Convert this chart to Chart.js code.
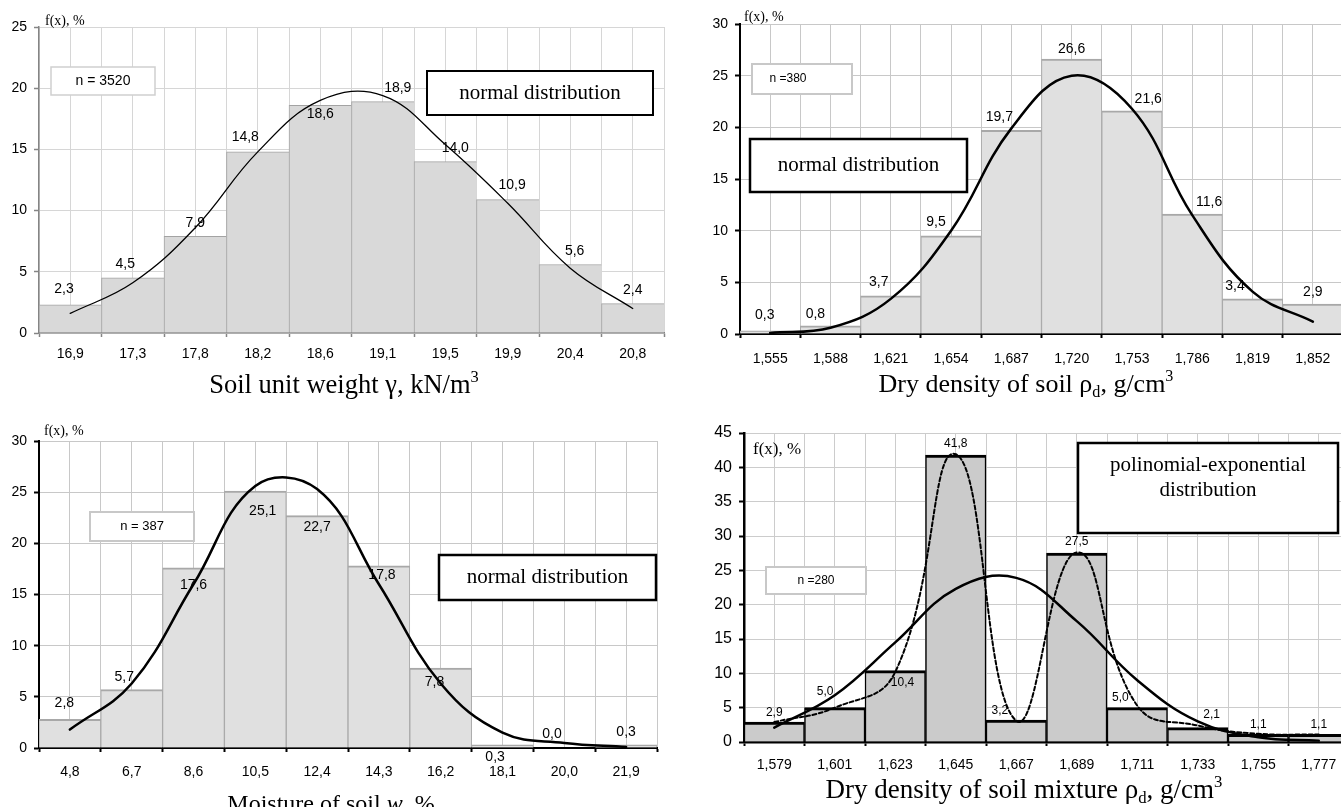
<!DOCTYPE html>
<html>
<head>
<meta charset="utf-8">
<script src="https://cdn.jsdelivr.net/npm/chart.js@4.4.1/dist/chart.umd.min.js"></script>
<style>
html,body{margin:0;padding:0;background:#fff;overflow:hidden;width:1341px;height:807px;position:relative;}
canvas{position:absolute;display:block;}
</style>
</head>
<body>
<canvas id="c1" width="670" height="400" style="left:0;top:0"></canvas>
<canvas id="c2" width="680" height="400" style="left:670px;top:0"></canvas>
<canvas id="c3" width="670" height="407" style="left:0;top:400px"></canvas>
<canvas id="c4" width="690" height="407" style="left:670px;top:400px"></canvas>
<script>
// ---------- DATA ----------
const unitWeightLabels = ['16,9','17,3','17,8','18,2','18,6','19,1','19,5','19,9','20,4','20,8'];
const unitWeightFreq   = [2.3, 4.5, 7.9, 14.8, 18.6, 18.9, 14.0, 10.9, 5.6, 2.4];
const unitWeightNormal = [1.6, 4.1, 8.6, 14.8, 19.0, 19.4, 15.4, 10.6, 5.3, 2.0];

const dryDensityLabels = ['1,555','1,588','1,621','1,654','1,687','1,720','1,753','1,786','1,819','1,852'];
const dryDensityFreq   = [0.3, 0.8, 3.7, 9.5, 19.7, 26.6, 21.6, 11.6, 3.4, 2.9];
const dryDensityNormal = [0.1, 0.6, 3.4, 10.0, 19.9, 25.0, 21.8, 11.5, 4.1, 1.2];

const moistureLabels = ['4,8','6,7','8,6','10,5','12,4','14,3','16,2','18,1','20,0','21,9'];
const moistureFreq   = [2.8, 5.7, 17.6, 25.1, 22.7, 17.8, 7.8, 0.3, 0.0, 0.3];
const moistureNormal = [1.8, 6.3, 16.0, 25.6, 25.3, 16.0, 6.3, 1.5, 0.5, 0.1];

const mixtureLabels  = ['1,579','1,601','1,623','1,645','1,667','1,689','1,711','1,733','1,755','1,777'];
const mixtureFreq    = [2.9, 5.0, 10.4, 41.8, 3.2, 27.5, 5.0, 2.1, 1.1, 1.1];
const mixtureNormal  = [2.1, 6.8, 14.5, 22.3, 23.9, 17.6, 9.0, 3.0, 0.7, 0.2];
const mixturePolyExp = [2.9, 5.0, 10.2, 41.9, 3.1, 27.6, 5.3, 2.4, 1.2, 1.1];

// ---------- STYLE ----------
const SANS = "'Liberation Sans', Arial, sans-serif";
const SERIF = "'Liberation Serif', 'Times New Roman', serif";

function fmt(v){ return v.toFixed(1).replace('.', ','); }

function drawRich(ctx, segs, cx, baseline, size) {
  const parts = segs.map(s => {
    const sz = (s.sup || s.sub) ? size * 0.62 : size;
    const font = (s.italic ? 'italic ' : '') + sz + 'px ' + SERIF;
    ctx.font = font;
    return { t: s.t, font, w: ctx.measureText(s.t).width,
             dy: s.sup ? -size * 0.42 : (s.sub ? size * 0.2 : 0) };
  });
  const total = parts.reduce((a, p) => a + p.w, 0);
  let x = cx - total / 2;
  ctx.textAlign = 'left';
  ctx.textBaseline = 'alphabetic';
  parts.forEach(p => { ctx.font = p.font; ctx.fillText(p.t, x, baseline + p.dy); x += p.w; });
}

function decorPlugin(p) {
  return {
    id: 'decor',
    afterDatasetsDraw(chart) {
      const ctx = chart.ctx;
      const last = chart.data.datasets.length - 1;
      const meta = chart.getDatasetMeta(last);
      ctx.save();
      ctx.fillStyle = '#000';
      ctx.font = p.labelFont;
      ctx.textAlign = 'center';
      ctx.textBaseline = 'middle';
      meta.data.forEach((el, i) => {
        const v = chart.data.datasets[last].data[i];
        ctx.fillText(fmt(v), el.x + p.labelDx[i] * el.width, el.y - p.labelDy[i]);
      });
      ctx.restore();
    },
    afterDraw(chart) {
      const ctx = chart.ctx;
      const ox = p.offset[0], oy = p.offset[1];
      ctx.save();
      p.boxes.forEach(b => {
        ctx.fillStyle = '#fff';
        ctx.fillRect(b.x - ox, b.y - oy, b.w, b.h);
        ctx.strokeStyle = b.stroke;
        ctx.lineWidth = b.lw;
        ctx.strokeRect(b.x - ox, b.y - oy, b.w, b.h);
        ctx.fillStyle = '#000';
        ctx.font = b.font;
        ctx.textAlign = 'center';
        ctx.textBaseline = 'middle';
        const n = b.lines.length;
        b.lines.forEach((t, k) => {
          const cy = b.y - oy + b.h / 2 + (k - (n - 1) / 2) * b.lineH + (b.textDy || 0);
          ctx.fillText(t, b.x - ox + b.w / 2 + (b.textDx || 0), cy);
        });
      });
      ctx.fillStyle = '#000';
      ctx.font = p.fx.font;
      ctx.textAlign = 'left';
      ctx.textBaseline = 'middle';
      ctx.fillText('f(x), %', p.fx.x - ox, p.fx.y - oy);
      drawRich(ctx, p.title.segs, p.title.cx - ox, p.title.base - oy, p.title.size);
      ctx.restore();
    }
  };
}

function buildPanel(id, p) {
  const datasets = p.lines.map(ln => ({
    type: 'line', data: ln.data, borderColor: '#000', borderWidth: ln.width,
    borderDash: ln.dash || [], pointRadius: 0, tension: ln.tension, fill: false,
    order: 0, xAxisID: 'x', yAxisID: 'y', borderCapStyle: 'round'
  }));
  datasets.push({
    type: 'bar', data: p.freq, backgroundColor: p.barFill, borderColor: p.barBorder,
    borderWidth: p.barBorderWidth, borderSkipped: 'start',
    barPercentage: 1, categoryPercentage: 1, order: 1, xAxisID: 'x', yAxisID: 'y'
  });
  return new Chart(document.getElementById(id), {
    data: { labels: p.labels, datasets },
    options: {
      responsive: false, animation: false, events: [],
      layout: { padding: { left: 0, top: p.top, right: p.right, bottom: 0 } },
      plugins: { legend: { display: false }, tooltip: { enabled: false } },
      scales: {
        x: {
          type: 'category', offset: true, position: 'bottom',
          grid: { offset: true, color: p.gridColor, lineWidth: 1, drawTicks: true, tickLength: 4,
                  tickColor: p.axisColor, tickWidth: p.tickWidth },
          border: { color: p.axisColor, width: p.axisWidth },
          ticks: { color: '#000', font: { family: SANS, size: 14 }, padding: p.xPad,
                   maxRotation: 0, autoSkip: false },
          afterFit: s => { s.height = p.xHeight; }
        },
        x2: {
          type: 'category', offset: true, position: 'bottom',
          grid: { offset: false, color: p.gridColor, lineWidth: 1, drawTicks: false },
          border: { display: false },
          ticks: { display: false },
          afterFit: s => { s.height = 0; }
        },
        y: {
          min: 0, max: p.yMax,
          grid: { color: p.gridColor, lineWidth: 1, drawTicks: true, tickLength: 5,
                  tickColor: p.axisColor, tickWidth: p.tickWidth },
          border: { color: p.axisColor, width: p.axisWidth },
          ticks: { stepSize: 5, color: '#000', font: { family: SANS, size: p.yFont }, padding: 7 },
          afterFit: s => { s.width = p.yWidth; }
        }
      }
    },
    plugins: [decorPlugin(p)]
  });
}

// ---------- PANEL 1 ----------
buildPanel('c1', {
  offset: [0, 0], labels: unitWeightLabels, freq: unitWeightFreq,
  lines: [{ data: unitWeightNormal, width: 1.3, tension: 0.4 }],
  barFill: '#d9d9d9', barBorder: '#a3a3a3', barBorderWidth: { top: 1, left: 1, right: 0 },
  gridColor: '#d6d6d6', axisColor: '#858585', axisWidth: 1.5, tickWidth: 1.5,
  top: 27, right: 6, yWidth: 39, xHeight: 67, yMax: 25, yFont: 14, xPad: 9,
  labelFont: '14px ' + SANS,
  labelDx: [-0.1, -0.12, 0, -0.2, 0, 0.24, 0.16, 0.07, 0.07, 0],
  labelDy: [16, 13.5, 13.5, 14.5, -8.5, 13.5, 13.5, 14.5, 13.5, 13.5],
  boxes: [
    { x: 51, y: 67, w: 104, h: 28, stroke: '#cfcfcf', lw: 1.5, font: '14px ' + SANS, lines: ['n = 3520'], lineH: 0 },
    { x: 427, y: 71, w: 226, h: 44, stroke: '#000', lw: 2, font: '21px ' + SERIF, lines: ['normal distribution'], lineH: 0 }
  ],
  fx: { x: 45, y: 21, font: '14px ' + SERIF },
  title: { cx: 344, base: 393, size: 26.5, segs: [{ t: 'Soil unit weight γ, kN/m' }, { t: '3', sup: true }] }
});

// ---------- PANEL 2 ----------
buildPanel('c2', {
  offset: [670, 0], labels: dryDensityLabels, freq: dryDensityFreq,
  lines: [{ data: dryDensityNormal, width: 2.5, tension: 0.4 }],
  barFill: '#e0e0e0', barBorder: '#a8a8a8', barBorderWidth: { top: 2, left: 1, right: 1 },
  gridColor: '#c8c8c8', axisColor: '#000', axisWidth: 2, tickWidth: 2,
  top: 24, right: 7, yWidth: 70, xHeight: 66, yMax: 30, yFont: 14, xPad: 12.5,
  labelFont: '14px ' + SANS,
  labelDx: [-0.09, -0.25, -0.2, -0.25, -0.2, 0, 0.27, 0.28, -0.29, 0],
  labelDy: [15.5, 12, 13.5, 13.5, 13.5, 9.5, 11.5, 11.5, 12.5, 11.5],
  boxes: [
    { x: 752, y: 64, w: 100, h: 30, stroke: '#c8c8c8', lw: 2, font: '12px ' + SANS, lines: ['n =380'], lineH: 0, textDx: -14 },
    { x: 750, y: 139, w: 217, h: 53, stroke: '#000', lw: 2.5, font: '21px ' + SERIF, lines: ['normal distribution'], lineH: 0 }
  ],
  fx: { x: 744, y: 17, font: '14px ' + SERIF },
  title: { cx: 1026, base: 392, size: 26,
           segs: [{ t: 'Dry density of soil ρ' }, { t: 'd', sub: true }, { t: ', g/cm' }, { t: '3', sup: true }] }
});

// ---------- PANEL 3 ----------
buildPanel('c3', {
  offset: [0, 400], labels: moistureLabels, freq: moistureFreq,
  lines: [{ data: moistureNormal, width: 2.5, tension: 0.4 }],
  barFill: '#e0e0e0', barBorder: '#a8a8a8', barBorderWidth: { top: 2, left: 1, right: 1 },
  gridColor: '#c8c8c8', axisColor: '#000', axisWidth: 2, tickWidth: 2,
  top: 41, right: 13, yWidth: 39, xHeight: 59, yMax: 30, yFont: 14, xPad: 12,
  labelFont: '14px ' + SANS,
  labelDx: [-0.09, -0.12, 0, 0.12, 0, 0.05, -0.1, -0.12, -0.2, 0],
  labelDy: [16.5, 13, -17.5, -19.5, -11.5, -9, -13.5, -12.5, 14, 13],
  boxes: [
    { x: 90, y: 512, w: 104, h: 29, stroke: '#c8c8c8', lw: 2, font: '13px ' + SANS, lines: ['n = 387'], lineH: 0 },
    { x: 439, y: 555, w: 217, h: 45, stroke: '#000', lw: 2.5, font: '21px ' + SERIF, lines: ['normal distribution'], lineH: 0 }
  ],
  fx: { x: 44, y: 431, font: '14px ' + SERIF },
  title: { cx: 331, base: 811, size: 24,
           segs: [{ t: 'Moisture of soil ' }, { t: 'w', italic: true }, { t: ', %' }] }
});

// ---------- PANEL 4 ----------
buildPanel('c4', {
  offset: [670, 400], labels: mixtureLabels, freq: mixtureFreq,
  lines: [
    { data: mixturePolyExp, width: 2, tension: 0.45, dash: [4, 2.5] },
    { data: mixtureNormal, width: 2.5, tension: 0.4 }
  ],
  barFill: '#cbcbcb', barBorder: '#000', barBorderWidth: { top: 3, left: 1.5, right: 1.5 },
  gridColor: '#cccccc', axisColor: '#000', axisWidth: 2.5, tickWidth: 2,
  top: 33, right: 11, yWidth: 74, xHeight: 65, yMax: 45, yFont: 16, xPad: 11,
  labelFont: '12px ' + SANS,
  labelDx: [0, -0.16, 0.12, 0, -0.27, 0, -0.28, 0.23, 0, 0],
  labelDy: [9.5, 16, -12.5, 11, 9.5, 11, 10, 12.5, 10, 10],
  boxes: [
    { x: 766, y: 567, w: 100, h: 27, stroke: '#c8c8c8', lw: 2, font: '12px ' + SANS, lines: ['n =280'], lineH: 0 },
    { x: 1078, y: 443, w: 260, h: 90, stroke: '#000', lw: 2.5, font: '21px ' + SERIF,
      lines: ['polinomial-exponential', 'distribution'], lineH: 25, textDy: -10 }
  ],
  fx: { x: 753, y: 450, font: '17px ' + SERIF },
  title: { cx: 1024, base: 798, size: 27,
           segs: [{ t: 'Dry density of soil mixture ρ' }, { t: 'd', sub: true }, { t: ', g/cm' }, { t: '3', sup: true }] }
});
</script>
</body>
</html>
